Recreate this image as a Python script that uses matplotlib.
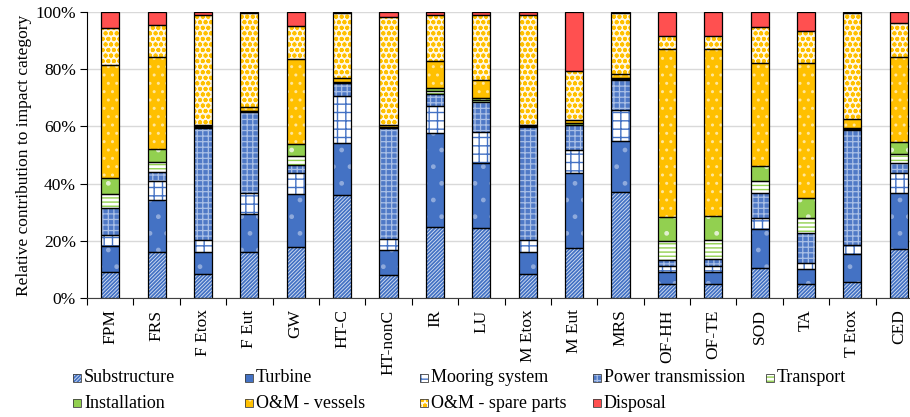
import numpy as np
import matplotlib.pyplot as plt
from matplotlib.patches import Rectangle

plt.rcParams['font.family'] = ['Liberation Serif', 'DejaVu Serif']

# impact categories
categories = ['FPM', 'FRS', 'F Etox', 'F Eut', 'GW', 'HT-C', 'HT-nonC', 'IR', 'LU',
              'M Etox', 'M Eut', 'MRS', 'OF-HH', 'OF-TE', 'SOD', 'TA', 'T Etox', 'CED']

# contributions in %
substructure = [9.3, 16.2, 8.4, 16.0, 17.9, 35.9, 8.0, 25.0, 24.5, 8.5, 17.4, 37.0, 4.9, 4.9, 10.5, 4.9, 5.8, 17.2]
turbine = [8.8, 18.0, 7.8, 13.3, 18.4, 18.2, 8.7, 32.8, 22.8, 7.8, 26.3, 17.9, 4.2, 4.4, 13.6, 5.2, 9.7, 19.4]
mooring = [3.9, 6.6, 4.0, 7.3, 7.3, 16.5, 4.1, 9.3, 10.6, 4.0, 7.9, 10.7, 2.1, 2.1, 4.0, 2.2, 3.0, 7.0]
power_trans = [9.6, 3.2, 39.3, 28.3, 2.8, 4.4, 38.5, 4.1, 10.7, 39.4, 8.7, 10.6, 2.2, 2.2, 8.5, 10.4, 40.2, 3.5]
transport = [4.7, 3.4, 0.4, 0.3, 3.4, 0.2, 0.3, 1.0, 0.6, 0.3, 0.3, 0.3, 6.6, 6.7, 4.2, 5.2, 0.3, 3.2]
installation = [5.6, 4.8, 0.3, 0.3, 4.0, 0.3, 0.3, 1.3, 0.6, 0.3, 0.4, 0.3, 8.5, 8.4, 5.4, 7.0, 0.3, 4.4]
om_vessels = [39.5, 32.0, 0.4, 1.2, 29.6, 1.5, 0.7, 9.2, 6.5, 0.3, 1.3, 1.5, 58.6, 58.4, 35.9, 47.2, 3.3, 29.4]
om_spare = [12.8, 11.1, 38.2, 33.0, 11.6, 22.7, 37.7, 16.1, 22.5, 38.2, 17.1, 21.4, 4.5, 4.5, 12.7, 11.2, 37.1, 11.8]
disposal = [5.8, 4.7, 1.2, 0.3, 5.0, 0.3, 1.7, 1.2, 1.2, 1.2, 20.6, 0.3, 8.4, 8.4, 5.2, 6.7, 0.3, 4.1]

labels = ['Substructure', 'Turbine', 'Mooring system', 'Power transmission', 'Transport',
          'Installation', 'O&M - vessels', 'O&M - spare parts', 'Disposal']
series = [substructure, turbine, mooring, power_trans, transport,
          installation, om_vessels, om_spare, disposal]

# (face colour, hatch colour, hatch, hatch linewidth)
styles = [
    ('#DCE6F5', '#4472C4', '/////////', 1.3),
    ('#4472C4', '#8FAADC', '.', 1.0),
    ('white', '#4472C4', '++', 1.0),
    ('#4F79C6', '#A9BFE6', '+++', 0.9),
    ('white', '#92D050', '----', 1.0),
    ('#92D050', '#E2F0D0', '.', 1.0),
    ('#FFC000', '#FFE699', '..', 1.0),
    ('#FFF8E5', '#FFC000', 'ooo', 1.3),
    ('#FF5050', '#FF5050', '', 1.0),
]

fig = plt.figure(figsize=(9.1, 4.17), dpi=100)
ax = fig.add_axes([87 / 910, 118.7 / 417, 835 / 910, 286.6 / 417])

x = np.arange(len(categories))
w = 0.39
bottom = np.zeros(len(categories))
for vals, (fc, hc, h, hlw) in zip(series, styles):
    vals = np.array(vals)
    with plt.rc_context({'hatch.linewidth': hlw}):
        ax.bar(x, vals, w, bottom=bottom, color=fc, edgecolor=hc, hatch=h, linewidth=0, zorder=2)
    ax.bar(x, vals, w, bottom=bottom, fill=False, edgecolor='black', linewidth=0.9, zorder=3)
    bottom += vals

ax.set_xlim(-0.5, len(categories) - 0.5)
ax.set_ylim(0, 100)
ax.set_yticks(np.arange(0, 101, 20))
ax.set_yticklabels([f'{v}%' for v in range(0, 101, 20)], fontsize=12.5)
ax.yaxis.grid(True, color='#D9D9D9', linewidth=1, zorder=0)
ax.set_axisbelow(True)

ax.set_xticks(np.arange(-0.5, len(categories), 1))
ax.set_xticklabels([])
ax.set_xticks(x, minor=True)
ax.set_xticklabels(categories, minor=True, rotation=90, fontsize=12.5)
ax.tick_params(axis='x', which='major', length=5, direction='out')
ax.tick_params(axis='x', which='minor', length=0, pad=8)
ax.tick_params(axis='y', length=5, pad=3)

for s in ['top', 'right']:
    ax.spines[s].set_visible(False)
ax.spines['left'].set_color('black')
ax.spines['bottom'].set_color('#404040')

ax.set_ylabel('Relative contribution to impact category', fontsize=12.5, labelpad=2)

# legend drawn by hand on a fixed grid
col_x = [73, 245, 420, 593, 766]
row_y = [378, 403]
for i, (lab, (fc, hc, h, hlw)) in enumerate(zip(labels, styles)):
    cx = col_x[i % 5]
    cy = row_y[i // 5]
    with plt.rc_context({'hatch.linewidth': hlw}):
        fig.add_artist(Rectangle((cx / 910, (417 - cy - 4) / 417), 8 / 910, 8 / 417,
                                 transform=fig.transFigure, facecolor=fc, edgecolor=hc,
                                 hatch=h, linewidth=0))
    fig.add_artist(Rectangle((cx / 910, (417 - cy - 4) / 417), 8 / 910, 8 / 417,
                             transform=fig.transFigure, fill=False, edgecolor='#404040',
                             linewidth=0.6))
    fig.text((cx + 11) / 910, (417 - cy) / 417, lab, fontsize=13, va='center', ha='left')

fig.savefig('out.png', dpi=100)
